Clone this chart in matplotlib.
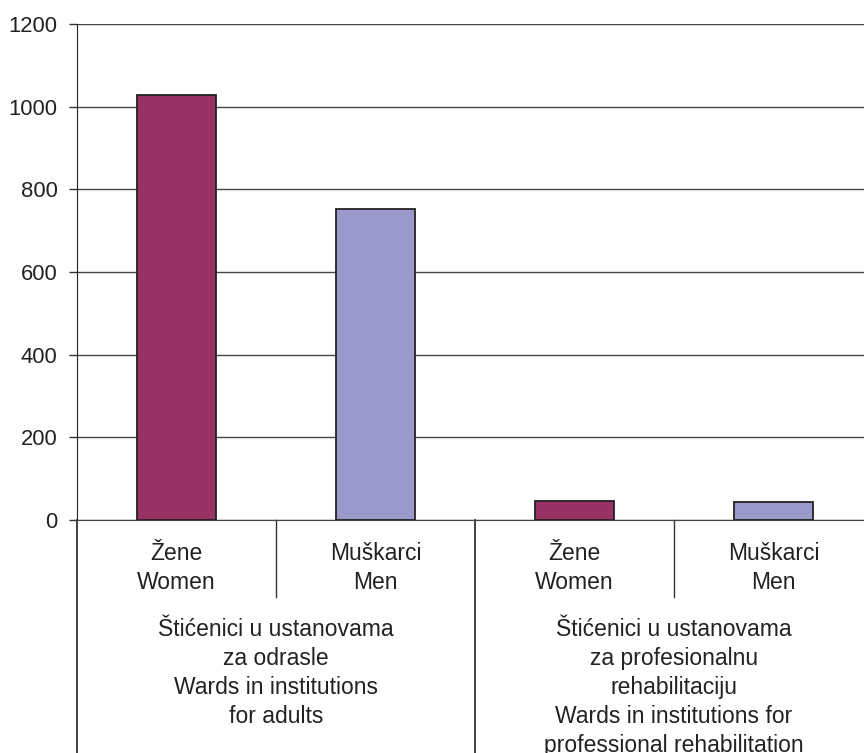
import matplotlib
matplotlib.use("Agg")
import matplotlib.pyplot as plt
from matplotlib.lines import Line2D

plt.rcParams["font.family"] = ["Liberation Sans", "DejaVu Sans"]

# ── data ────────────────────────────────────────────────────────────────
categories = ["Žene\nWomen", "Muškarci\nMen", "Žene\nWomen", "Muškarci\nMen"]
values = [1028, 753, 46, 43]
bar_colors = ["#993366", "#9999cc", "#993366", "#9999cc"]
groups = [
    "Štićenici u ustanovama\nza odrasle\nWards in institutions\nfor adults",
    "Štićenici u ustanovama\nza profesionalnu\nrehabilitaciju\nWards in institutions for\nprofessional rehabilitation",
]
yticks = [0, 200, 400, 600, 800, 1000, 1200]

W, H = 864, 753
fig = plt.figure(figsize=(W / 100, H / 100), dpi=100)
# axes box in pixels: left 77, right 873, top 24, bottom 520
ax = fig.add_axes([77 / W, 1 - 520 / H, (873 - 77) / W, (520 - 24) / H])

x = range(len(values))
ax.bar(x, values, width=0.4, color=bar_colors, edgecolor="#222222",
       linewidth=1.3, zorder=3)

ax.set_xlim(-0.5, 3.5)
ax.set_ylim(0, 1200)
ax.set_yticks(yticks)
ax.set_yticklabels([str(v) for v in yticks], fontsize=15.8, color="#222222")
ax.tick_params(axis="y", length=6, width=1, color="#333333", pad=8)
ax.set_xticks([])
ax.yaxis.grid(True, color="#444444", lw=1)
ax.set_axisbelow(True)

for s in ["top", "right"]:
    ax.spines[s].set_visible(False)
ax.spines["left"].set_color("#222222")
ax.spines["bottom"].set_color("#444444")

trans = ax.get_xaxis_transform()
px = 1 / 496  # one pixel in axes fraction (vertical)

# category labels
for xi, lab in zip(x, categories):
    ax.text(xi, -22 * px, lab, transform=trans, ha="center", va="top",
            fontsize=16.5, color="#222222", linespacing=1.33)

# group labels
for gi, lab in enumerate(groups):
    ax.text(gi * 2 + 0.5, -98 * px, lab, transform=trans, ha="center",
            va="top", fontsize=16.5, color="#222222", linespacing=1.33)

# separators below the axis
for xs in [0.5, 2.5]:
    ax.add_line(Line2D([xs, xs], [0, -77 * px], transform=trans,
                       color="#333333", lw=1, clip_on=False))
for xs in [-0.5, 1.5]:
    ax.add_line(Line2D([xs, xs], [0, -240 * px], transform=trans,
                       color="#222222", lw=1.2, clip_on=False))

fig.savefig("out.png", dpi=100)
